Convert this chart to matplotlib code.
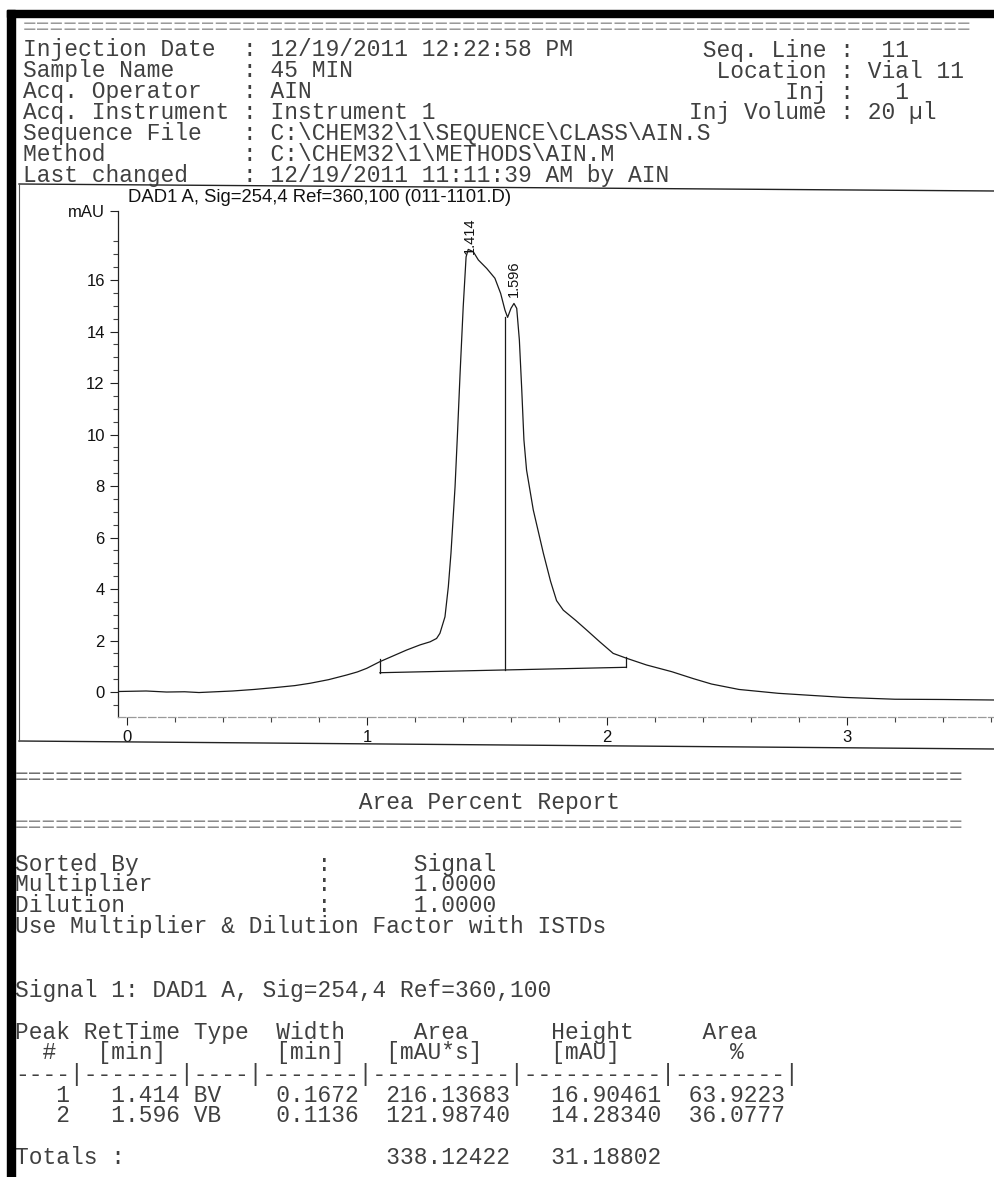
import matplotlib
matplotlib.use("Agg")
import matplotlib.pyplot as plt
import matplotlib.transforms as mtransforms
from matplotlib.lines import Line2D
from matplotlib.patches import Rectangle
from matplotlib.ticker import FixedLocator

W, H = 995, 1177

# chromatogram trace (min, mAU)
time_min = [-0.0375, 0.08, 0.165, 0.24, 0.30, 0.44, 0.53, 0.625, 0.70, 0.763,
            0.84, 0.915, 0.96, 0.999, 1.054, 1.096, 1.165, 1.221, 1.263, 1.29,
            1.304, 1.325, 1.339, 1.350, 1.367, 1.377, 1.388, 1.401, 1.413, 1.422,
            1.443, 1.464, 1.499, 1.533, 1.557, 1.575, 1.586, 1.600, 1.6125, 1.624,
            1.635, 1.645, 1.654, 1.665, 1.693, 1.735, 1.765, 1.79, 1.818, 1.87,
            1.915, 1.97, 2.026, 2.082, 2.165, 2.27, 2.36, 2.436, 2.55, 2.714,
            2.85, 2.99, 3.20, 3.40, 3.617]
signal_mau = [0.02, 0.04, 0.0, 0.01, -0.02, 0.04, 0.10, 0.18, 0.25, 0.34,
              0.48, 0.66, 0.78, 0.92, 1.18, 1.35, 1.63, 1.83, 1.95, 2.08,
              2.28, 2.92, 4.09, 5.39, 7.97, 10.0, 12.38, 14.96, 16.9, 17.19,
              17.10, 16.78, 16.45, 16.07, 15.48, 14.83, 14.55, 14.90, 15.09, 14.90,
              13.67, 11.73, 9.79, 8.62, 7.07, 5.39, 4.3, 3.55, 3.18, 2.78,
              2.41, 1.95, 1.50, 1.31, 1.05, 0.79, 0.52, 0.31, 0.10, -0.05,
              -0.13, -0.21, -0.28, -0.29, -0.31]

# integration baseline, its end marks and the drop line
base_t = [1.054, 2.079]
base_y = [0.75, 0.96]
base_mark_top = [1.30, 1.37]
drop_t = 1.576
drop_y = [0.85, 14.58]

peak_labels = ["1.414", "1.596"]
peak_rt = [1.414, 1.596]
peak_label_y = [17.0, 15.35]

header_left = [("Injection Date", "12/19/2011 12:22:58 PM"),
               ("Sample Name", "45 MIN"),
               ("Acq. Operator", "AIN"),
               ("Acq. Instrument", "Instrument 1"),
               ("Sequence File", "C:\\CHEM32\\1\\SEQUENCE\\CLASS\\AIN.S"),
               ("Method", "C:\\CHEM32\\1\\METHODS\\AIN.M"),
               ("Last changed", "12/19/2011 11:11:39 AM by AIN")]
header_right = [("Seq. Line", " 11"), ("Location", "Vial 11"),
                ("Inj", "  1"), ("Inj Volume", "20 µl")]

report_opts = [("Sorted By", "Signal"), ("Multiplier", "1.0000"), ("Dilution", "1.0000")]

peak_no = [1, 2]
ret_time = [1.414, 1.596]
peak_type = ["BV", "VB"]
width_min = [0.1672, 0.1136]
area = [216.13683, 121.98740]
height = [16.90461, 14.28340]
area_pct = [63.9223, 36.0777]
total_area = 338.12422
total_height = 31.18802


def fx(x):
    return x / W


def fy(y):
    return 1 - y / H


MONO = dict(family="Liberation Mono", fontsize=16.5, color="#404040")
SANS = "Liberation Sans"

fig = plt.figure(figsize=(W / 100, H / 100), dpi=100)
fig.patch.set_facecolor("white")

# scanner border
fig.patches.append(Rectangle((fx(7), fy(17)), fx(W - 7), 7 / H, transform=fig.transFigure,
                             color="black", zorder=5))
fig.patches.append(Rectangle((fx(7), 0), fx(8), fy(10), transform=fig.transFigure,
                             color="black", zorder=5))


def mono(x, y, s, **kw):
    # y is the middle of the capitals, in pixels from the top
    opts = dict(MONO)
    opts.update(kw)
    fig.text(fx(x), fy(y + 6.5), s, ha="left", va="baseline", **opts)


# header block
mono(23, 28, "=" * 69, color="#9a9a9a")
for i, (lab, val) in enumerate(header_left):
    mono(23, 49.5 + i * 21, f"{lab:<16s}: {val}")
for i, (lab, val) in enumerate(header_right):
    mono(689, 50 + i * 21, f"{lab:>10s} : {val}")

# chart frame
fig.add_artist(Line2D([fx(19), fx(W)], [fy(184), fy(191)], color="#222222", lw=1.0))
fig.add_artist(Line2D([fx(19), fx(W)], [fy(741), fy(749)], color="#222222", lw=1.0))
fig.add_artist(Line2D([fx(19), fx(19)], [fy(184), fy(741)], color="#555555", lw=0.8))
fig.text(fx(128), fy(198), "DAD1 A, Sig=254,4 Ref=360,100 (011-1101.D)",
         family=SANS, fontsize=13.3, ha="left", va="center", color="#111111")

# chromatogram axes
x0, x1 = -0.0375, 3.617
y0, y1 = -0.97, 18.7
ax = fig.add_axes([fx(118), fy(717), fx(W - 118), (717 - 210.5) / H])
ax.plot(time_min, signal_mau, color="#1a1a1a", lw=0.9)
ax.plot(base_t, base_y, color="#1a1a1a", lw=0.9)
ax.plot([base_t[0], base_t[0]], [base_y[0], base_mark_top[0]], color="#1a1a1a", lw=0.9)
ax.plot([base_t[1], base_t[1]], [base_y[1], base_mark_top[1]], color="#1a1a1a", lw=0.9)
ax.plot([drop_t, drop_t], drop_y, color="#1a1a1a", lw=0.9)
ax.set_xlim(x0, x1)
ax.set_ylim(y0, y1)

for lab, rt, ly in zip(peak_labels, peak_rt, peak_label_y):
    tr = mtransforms.offset_copy(ax.transData, fig=fig, x=4, y=0, units="dots")
    ax.text(rt, ly, lab, rotation=90, ha="center", va="bottom", family=SANS,
            fontsize=10.5, color="#111111", transform=tr)

for s in ["top", "right"]:
    ax.spines[s].set_visible(False)
ax.spines["left"].set_color("#222222")
ax.spines["left"].set_linewidth(0.9)
ax.spines["bottom"].set_color("#9a9a9a")
ax.spines["bottom"].set_linewidth(0.9)
ax.spines["bottom"].set_linestyle((0, (6, 2)))

yt = [0, 2, 4, 6, 8, 10, 12, 14, 16, y1]
ax.yaxis.set_major_locator(FixedLocator(yt))
ax.set_yticklabels([str(v) for v in yt[:-1]] + ["mAU"])
ax.yaxis.set_minor_locator(FixedLocator([v / 2 for v in range(-1, 37) if v % 4 != 0]))
ax.xaxis.set_major_locator(FixedLocator([0, 1, 2, 3]))
ax.xaxis.set_minor_locator(FixedLocator([v / 5 for v in range(1, 19) if v % 5 != 0]))
ax.tick_params(axis="both", which="major", direction="out", length=6, width=0.8,
               color="#222222", labelsize=12, pad=3.5)
ax.tick_params(axis="both", which="minor", direction="out", length=3.3, width=0.8,
               color="#444444")
for t in ax.get_xticklabels() + ax.get_yticklabels():
    t.set_family(SANS)
    t.set_color("#111111")
ax.patch.set_alpha(0)

# area percent report
mono(15, 777, "=" * 69, color="#707070")
mono(15, 803, " " * 25 + "Area Percent Report")
mono(15, 825, "=" * 69, color="#8a8a8a")
for i, (lab, val) in enumerate(report_opts):
    mono(15, 864 + i * 21, f"{lab:<22s}:{'':6s}{val}")
mono(15, 927, "Use Multiplier & Dilution Factor with ISTDs")

mono(15, 990, "Signal 1: DAD1 A, Sig=254,4 Ref=360,100")
mono(15, 1032, "Peak RetTime Type  Width     Area      Height     Area")
mono(15, 1053, "  #   [min]        [min]   [mAU*s]     [mAU]        %")
mono(15, 1074, "----|-------|----|-------|----------|----------|--------|")
for i in range(len(peak_no)):
    row = (f"{peak_no[i]:4d}{ret_time[i]:8.3f} {peak_type[i]:<4s}{width_min[i]:8.4f}"
           f"{area[i]:11.5f}{height[i]:11.5f}{area_pct[i]:9.4f}")
    mono(15, 1095 + i * 21, row)
mono(15, 1158, "Totals :" + f"{total_area:28.5f}" + f"{total_height:11.5f}")

fig.savefig("out.png", dpi=100, facecolor="white")
